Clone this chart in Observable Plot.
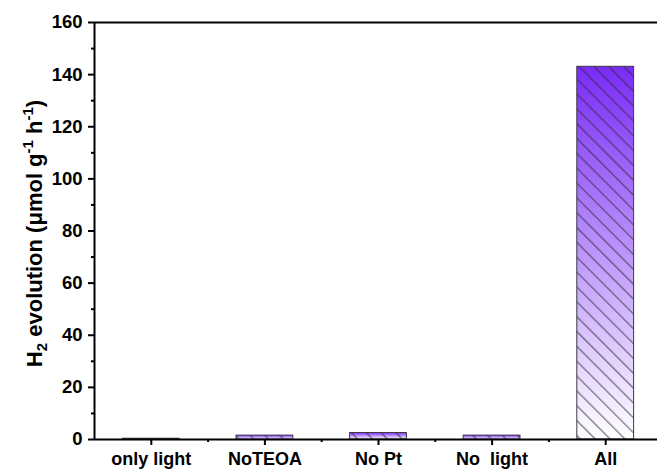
<!DOCTYPE html>
<html>
<head>
<meta charset="utf-8">
<script src="https://cdn.jsdelivr.net/npm/d3@7"></script>
<script src="https://cdn.jsdelivr.net/npm/@observablehq/plot@0.6"></script>
<style>
  html, body { margin: 0; padding: 0; background: #fff; }
  #chart svg { display: block; }
</style>
</head>
<body>
<div id="chart"></div>
<script>
// ---- data ----
const categories = ["only light", "NoTEOA", "No Pt", "No  light", "All"];
const values = [0.3, 1.5, 2.5, 1.5, 143];
const yTicks = [0, 20, 40, 60, 80, 100, 120, 140, 160];
const yMinorTicks = [10, 30, 50, 70, 90, 110, 130, 150];
const yLabelParts = [
  { t: "H", k: "n" }, { t: "2", k: "sub" }, { t: " evolution (μmol g", k: "n" },
  { t: "-1", k: "sup" }, { t: " h", k: "n" }, { t: "-1", k: "sup" }, { t: ")", k: "n" }
];

const data = categories.map((c, i) => ({ i, category: c, value: values[i] }));
const centers = categories.map((c, i) => i + 0.5);
const boundaries = categories.slice(1).map((c, i) => i + 1);

const W = 657, H = 470;
const font = "'Liberation Sans', Arial, sans-serif";

const chart = Plot.plot({
  width: W,
  height: H,
  marginLeft: 94,
  marginRight: 0,
  marginTop: 22,
  marginBottom: 31,
  style: { fontFamily: font, fontWeight: "bold", background: "#fff", overflow: "visible" },
  x: { domain: [0, categories.length], range: [94, 662], axis: null },
  y: { domain: [0, 160], axis: null },
  marks: [
    Plot.rectY(data, { x1: d => d.i + 0.25, x2: d => d.i + 0.75, y: "value", fill: "url(#barGrad)" }),
    Plot.rectY(data, { x1: d => d.i + 0.25, x2: d => d.i + 0.75, y: "value", fill: "url(#barHatch)", stroke: "#3b3b45", strokeWidth: 1 }),
    // y axis
    Plot.axisY({ ticks: yTicks, tickSize: 6, tickPadding: 6, fontSize: 18.5, fontWeight: "bold", strokeWidth: 2, label: null, color: "#000" }),
    Plot.axisY({ ticks: yMinorTicks, tickSize: 3, tickFormat: () => "", strokeWidth: 2, label: null }),
    // x axis
    Plot.axisX({ ticks: centers, tickFormat: d => categories[Math.floor(d)], tickSize: 6, tickPadding: 7, fontSize: 18, fontWeight: "bold", strokeWidth: 2, label: null }),
    Plot.axisX({ ticks: boundaries, tickSize: 3, tickFormat: () => "", strokeWidth: 2, label: null }),
    // frame lines
    Plot.ruleX([0], { stroke: "#000", strokeWidth: 2 }),
    Plot.ruleY([0], { stroke: "#000", strokeWidth: 2 }),
    Plot.ruleY([160], { stroke: "#000", strokeWidth: 2 })
  ]
});

document.getElementById("chart").appendChild(chart);

const svg = d3.select(chart);
svg.selectAll("text").style("white-space", "pre").attr("xml:space", "preserve");
const defs = svg.insert("defs", ":first-child");
const grad = defs.append("linearGradient")
  .attr("id", "barGrad").attr("x1", 0).attr("y1", 1).attr("x2", 0).attr("y2", 0);
grad.append("stop").attr("offset", "0%").attr("stop-color", "#ffffff");
grad.append("stop").attr("offset", "100%").attr("stop-color", "#7a2bf6");

const pat = defs.append("pattern")
  .attr("id", "barHatch").attr("patternUnits", "userSpaceOnUse")
  .attr("width", 10.5).attr("height", 10.5)
  .attr("patternTransform", "rotate(45)");
pat.append("line").attr("x1", -1).attr("y1", 5).attr("x2", 11.5).attr("y2", 5)
  .attr("stroke", "#2a2636").attr("stroke-width", 0.9).attr("stroke-opacity", 0.9);

// y-axis title with sub/superscripts
const yScale = chart.scale("y");
const midY = yScale.apply(80) + 3;
const title = svg.append("text")
  .attr("transform", `translate(42,${midY}) rotate(-90)`)
  .attr("text-anchor", "middle")
  .attr("font-family", font)
  .attr("font-weight", "bold")
  .attr("font-size", 22)
  .attr("fill", "#000");
const shift = { sub: 5, sup: -9, n: 0 };
let base = 0;
yLabelParts.forEach(p => {
  const target = shift[p.k];
  const ts = title.append("tspan").text(p.t).style("white-space", "pre")
    .attr("dy", target - base);
  base = target;
  if (p.k !== "n") ts.attr("font-size", 15);
});
</script>
</body>
</html>
